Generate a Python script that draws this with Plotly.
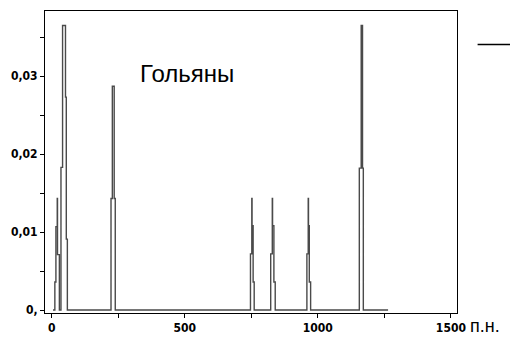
import plotly.graph_objects as go

# fragment length (bp) and frequency, drawn as a step outline
bp = [5, 12, 16, 21, 22, 29, 35, 41, 52, 55, 59,
      223, 228, 235, 239,
      747, 752, 753, 757, 761,
      823, 829, 830, 835, 840,
      959, 964, 965, 968, 973,
      1156, 1163, 1168, 1171, 1264]
freq = [0, 0.0036, 0.0107, 0.0143, 0.0071, 0, 0.0183, 0.0365, 0.0273, 0.0091, 0,
        0.0143, 0.0287, 0.0143, 0,
        0.0072, 0.0143, 0.0108, 0.0036, 0,
        0.0072, 0.0143, 0.0108, 0.0036, 0,
        0.0072, 0.0143, 0.0108, 0.0036, 0,
        0.0182, 0.0365, 0.0182, 0, 0]

x_tickvals = [0, 250, 500, 750, 1000, 1250, 1500]
x_ticktext = ["0", "", "500", "", "1000", "", "1500"]
y_tickvals = [0, 0.005, 0.01, 0.015, 0.02, 0.025, 0.03, 0.035]
y_ticktext = ["0,", "", "0,01", "", "0,02", "", "0,03", ""]

title_text = "Гольяны"
x_unit = "п.н."

tick_font = dict(family="DejaVu Sans Condensed, Liberation Sans Narrow, sans-serif",
                 size=12, color="black", weight="bold")

fig = go.Figure()
fig.add_trace(go.Scatter(x=bp, y=freq, mode="lines", line_shape="hv",
                         line=dict(color="#4a4a4a", width=1.4), showlegend=False,
                         hoverinfo="skip"))

fig.update_layout(
    width=510, height=345,
    margin=dict(l=45, r=53, t=10, b=29),
    paper_bgcolor="white", plot_bgcolor="white",
    xaxis=dict(range=[-25, 1523], tickvals=x_tickvals, ticktext=x_ticktext,
               ticks="outside", ticklen=4, tickcolor="black", tickwidth=1,
               showgrid=False, zeroline=False, showline=True, linecolor="black",
               linewidth=1, mirror=True, tickfont=tick_font),
    yaxis=dict(range=[-0.00038, 0.03835], tickvals=y_tickvals, ticktext=y_ticktext,
               ticks="outside", ticklen=4, tickcolor="black", tickwidth=1,
               showgrid=False, zeroline=False, showline=True, linecolor="black",
               linewidth=1, mirror=True, tickfont=tick_font),
    annotations=[
        dict(text=title_text, xref="paper", yref="paper", x=0.345, y=0.794,
             xanchor="center", yanchor="middle", showarrow=False,
             font=dict(family="Liberation Sans, Arial, sans-serif", size=24, color="black")),
        dict(text=x_unit, xref="paper", yref="paper", x=1.027, y=-0.042,
             xanchor="left", yanchor="middle", showarrow=False,
             font=dict(family="Liberation Sans, Arial, sans-serif", size=18, color="black")),
    ],
    shapes=[dict(type="line", xref="paper", yref="paper", x0=1.05, x1=1.2,
                 y0=0.889, y1=0.889, line=dict(color="black", width=1.3))],
)

fig.write_html("out.html")
